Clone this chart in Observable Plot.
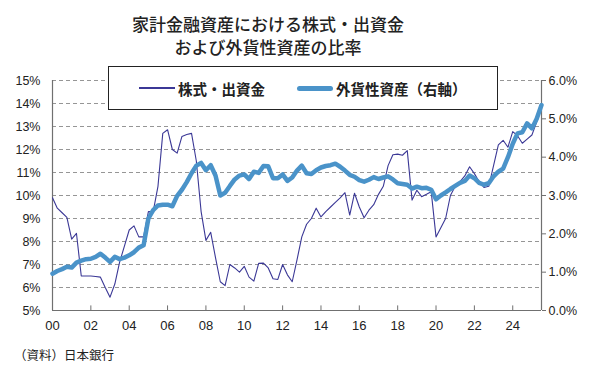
<!DOCTYPE html>
<html>
<head>
<meta charset="utf-8">
<script src="https://cdn.jsdelivr.net/npm/d3@7"></script>
<script src="https://cdn.jsdelivr.net/npm/@observablehq/plot@0.6"></script>
<style>
  html, body { margin: 0; padding: 0; background: #fff; }
  #wrap { position: relative; width: 600px; height: 376px; overflow: hidden; background: #fff; }
  #chart { position: absolute; left: 0; top: 0; }
  .title { position: absolute; left: 68px; width: 400px; text-align: center; font-family: "Noto Sans CJK JP", sans-serif; font-size: 17px; font-weight: 500; color: #222; line-height: 23px; top: 12px; }
  .legend { position: absolute; left: 108px; top: 66px; width: 388px; height: 42px; border: 1.5px solid #222; background: #fff; font-family: "Noto Sans CJK JP", sans-serif; font-size: 14.5px; font-weight: 700; color: #222; }
  .legend .item { position: absolute; top: 0; height: 42px; display: flex; align-items: center; white-space: nowrap; }
  .legend .swatch { display: inline-block; width: 36px; margin-right: 3px; }
  .caption { position: absolute; left: 14px; top: 345px; font-family: "Noto Sans CJK JP", sans-serif; font-size: 12.5px; color: #222; }
</style>
</head>
<body>
<div id="wrap">
  <div id="chart"></div>
  <div class="title">家計金融資産における株式・出資金<br>および外貨性資産の比率</div>
  <div class="legend">
    <div class="item" style="left:30px"><span class="swatch" id="sw1"></span><span id="lab1"></span></div>
    <div class="item" style="left:188px"><span class="swatch" id="sw2"></span><span id="lab2"></span></div>
  </div>
  <div class="caption">（資料）日本銀行</div>
</div>
<script>
// Series labels
const seriesNames = ["株式・出資金", "外貨性資産（右軸）"];
const seriesColors = ["#3b3896", "#4a93c9"];

// First quarter of the series and tick labels
const firstYear = 2000;
const xTickYears = [2002, 2004, 2006, 2008, 2010, 2012, 2014, 2016, 2018, 2020, 2022, 2024];
const xLabelYears = [2000, 2002, 2004, 2006, 2008, 2010, 2012, 2014, 2016, 2018, 2020, 2022, 2024];
const leftTicks = [5, 6, 7, 8, 9, 10, 11, 12, 13, 14, 15];
const rightTicks = [0, 1, 2, 3, 4, 5, 6];

// 株式・出資金 (% of household financial assets, left axis), quarterly from 2000Q1
const stockRatio = [
  9.9, 9.45, 9.25, 9.05, 8.1, 8.35, 6.5, 6.5, 6.5, 6.48,
  6.45, 6.0, 5.58, 6.15, 7.1, 7.8, 8.5, 8.68, 8.2, 8.2,
  9.3, 9.3, 10.4, 12.7, 12.86, 12.0, 11.84, 12.57, 12.65, 12.7,
  11.5, 9.3, 8.05, 8.4, 7.3, 6.25, 6.08, 7.0, 6.85, 6.67,
  6.92, 6.45, 6.28, 7.05, 7.06, 6.85, 6.38, 6.35, 7.0, 6.55,
  6.25, 7.2, 8.2, 8.75, 9.0, 9.45, 9.07, 9.3, 9.5, 9.7,
  9.9, 10.12, 9.15, 10.1, 9.5, 9.03, 9.36, 9.6, 10.05, 10.4,
  11.3, 11.77, 11.8, 11.75, 11.95, 9.8, 10.23, 9.95, 10.05, 10.16,
  8.2, 8.6, 9.0, 10.0, 10.4, 10.6, 10.85, 11.25, 10.95, 10.6,
  10.35, 10.4, 11.3, 12.2, 12.4, 12.1, 12.78, 12.6, 12.27, 12.45,
  12.63, 13.2, 13.9
];

// 外貨性資産 (% of household financial assets, right axis), quarterly from 2000Q1
const fxRatio = [
  0.96, 1.03, 1.08, 1.14, 1.12, 1.25, 1.3, 1.34, 1.35, 1.4,
  1.48, 1.38, 1.27, 1.4, 1.34, 1.38, 1.44, 1.52, 1.64, 1.7,
  2.4, 2.62, 2.74, 2.76, 2.76, 2.72, 2.99, 3.15, 3.35, 3.58,
  3.78, 3.85, 3.66, 3.79, 3.52, 3.0, 3.07, 3.25, 3.42, 3.52,
  3.55, 3.43, 3.62, 3.59, 3.77, 3.76, 3.45, 3.45, 3.55, 3.38,
  3.47, 3.65, 3.78, 3.58, 3.56, 3.66, 3.73, 3.77, 3.79, 3.83,
  3.75, 3.65, 3.54, 3.49, 3.4, 3.36, 3.41, 3.48, 3.43, 3.47,
  3.5, 3.42, 3.32, 3.3, 3.28, 3.18, 3.23, 3.19, 3.2, 3.15,
  2.9, 3.0, 3.08, 3.17, 3.25, 3.33, 3.38, 3.52, 3.45, 3.33,
  3.28, 3.32, 3.5, 3.62, 3.7, 4.0, 4.35, 4.62, 4.65, 4.88,
  4.75, 5.0, 5.36
];

// right axis (0–6%) maps onto left axis (5–15%)
const toLeft = v => 5 + v / 0.6;
const toRight = l => (l - 5) * 0.6;

const stockData = stockRatio.map((v, i) => ({t: firstYear + i / 4, v}));
const fxData = fxRatio.map((v, i) => ({t: firstYear + i / 4, v}));

const chart = Plot.plot({
  width: 600,
  height: 376,
  marginLeft: 52,
  marginRight: 59,
  marginTop: 80,
  marginBottom: 66,
  x: {domain: [2000, 2025.5], label: null},
  y: {domain: [5, 15], label: null},
  style: {fontFamily: "'Liberation Sans', Arial, sans-serif", fontSize: "12.5px", color: "#222", background: "transparent"},
  marks: [
    Plot.gridY(leftTicks.slice(1), {stroke: "#8a8a8a", strokeOpacity: 1, strokeDasharray: "4,3", strokeWidth: 0.9}),
    Plot.ruleX([2000, 2025.5], {stroke: "#707070", strokeWidth: 1.2}),
    Plot.ruleY([5], {stroke: "#707070", strokeWidth: 1.2}),
    Plot.ruleX(xTickYears, {y1: 5, y2: 5.2, stroke: "#707070"}),
    Plot.axisY(leftTicks, {anchor: "left", label: null, tickSize: 0, tickPadding: 12, tickFormat: d => d + "%"}),
    Plot.axisY(rightTicks.map(toLeft), {anchor: "right", label: null, tickSize: 4, tickPadding: 3, stroke: "#707070", tickFormat: d => toRight(d).toFixed(1) + "%"}),
    Plot.axisX(xLabelYears, {anchor: "bottom", label: null, tickSize: 0, tickPadding: 10, fontSize: 13, tickFormat: d => String(d % 100).padStart(2, "0")}),
    Plot.line(stockData, {x: "t", y: "v", stroke: seriesColors[0], strokeWidth: 1.1}),
    Plot.line(fxData, {x: "t", y: d => toLeft(d.v), stroke: seriesColors[1], strokeWidth: 4.5, strokeLinejoin: "round"})
  ]
});
document.getElementById("chart").appendChild(chart);

// legend
document.getElementById("lab1").textContent = seriesNames[0];
document.getElementById("lab2").textContent = seriesNames[1];
document.getElementById("sw1").style.cssText += `height:1.2px;background:${seriesColors[0]};`;
document.getElementById("sw2").style.cssText += `height:5px;border-radius:2.5px;background:${seriesColors[1]};`;
</script>
</body>
</html>
